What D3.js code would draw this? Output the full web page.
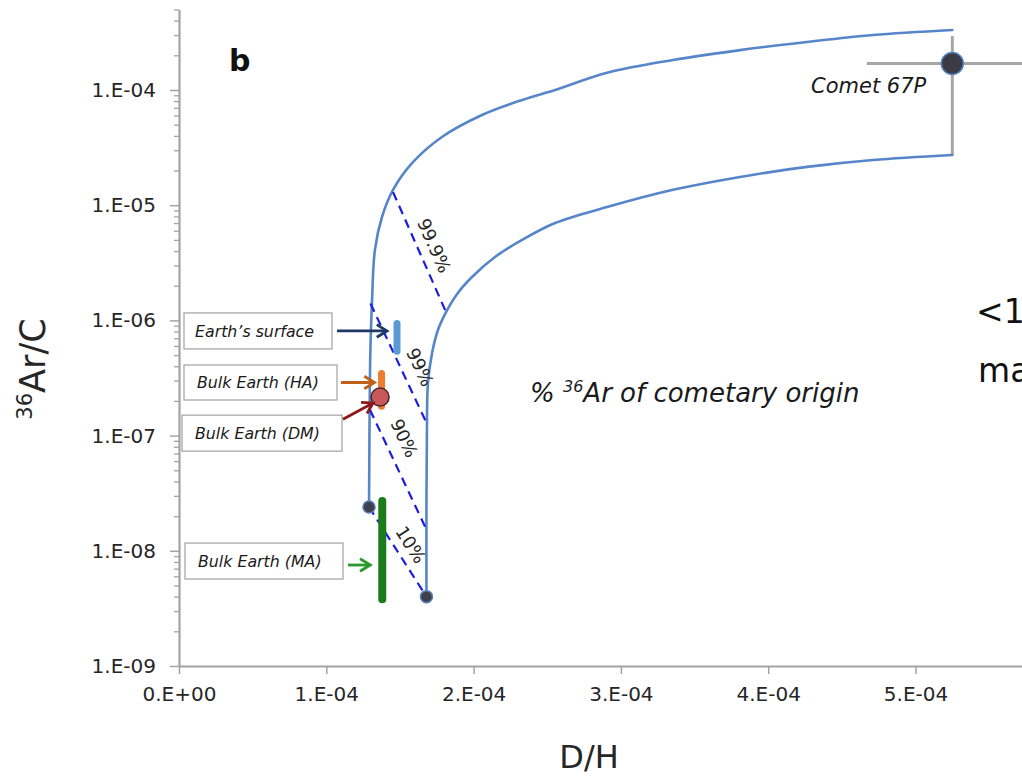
<!DOCTYPE html>
<html>
<head>
<meta charset="utf-8">
<script src="https://cdn.jsdelivr.net/npm/d3@7"></script>
<style>
  html, body { margin: 0; padding: 0; background: #ffffff; }
  svg { display: block; }
  text { font-family: "DejaVu Sans", "Liberation Sans", sans-serif; }
</style>
</head>
<body>
<svg id="chart" width="1022" height="781"></svg>
<script>
// ---- data: D/H vs 36Ar/C mixing between terrestrial end-members and comet 67P ----

// upper mixing curve (high-Ar end-member -> comet upper bound)
const upperDH  = [1.29e-4, 1.293e-4, 1.296e-4, 1.30e-4, 1.31e-4, 1.33e-4, 1.378e-4, 1.453e-4, 1.582e-4,
                  1.785e-4, 2.057e-4, 2.33e-4, 2.553e-4, 2.906e-4, 3.354e-4, 3.809e-4, 4.263e-4, 4.711e-4, 5.25e-4];
const upperArC = [2.4e-8, 1.0e-7, 3.0e-7, 6.0e-7, 1.42e-6, 4.1e-6, 7.9e-6, 1.36e-5, 2.32e-5,
                  3.91e-5, 6.07e-5, 8.2e-5, 1.0e-4, 1.41e-4, 1.82e-4, 2.22e-4, 2.61e-4, 3.0e-4, 3.32e-4];

// lower mixing curve (low-Ar end-member -> comet lower bound)
const lowerDH  = [1.68e-4, 1.68e-4, 1.683e-4, 1.69e-4, 1.718e-4, 1.758e-4, 1.813e-4, 1.887e-4, 1.989e-4,
                  2.145e-4, 2.329e-4, 2.553e-4, 2.906e-4, 3.354e-4, 3.809e-4, 4.263e-4, 4.711e-4, 5.25e-4];
const lowerArC = [4.0e-9, 2.8e-8, 1.05e-7, 2.86e-7, 5.2e-7, 8.26e-7, 1.18e-6, 1.69e-6, 2.38e-6,
                  3.55e-6, 4.99e-6, 7.0e-6, 9.64e-6, 1.36e-5, 1.76e-5, 2.15e-5, 2.47e-5, 2.73e-5];

// end-member points of the two curves
const endDH  = [1.29e-4, 1.68e-4];
const endArC = [2.4e-8, 4.0e-9];

// iso-lines: % 36Ar of cometary origin
const isoLabels = ["99.9%", "99%", "90%", "10%"];
const isoDH0  = [1.453e-4, 1.30e-4, 1.297e-4, 1.29e-4];
const isoArC0 = [1.30e-5, 1.40e-6, 1.67e-7, 2.4e-8];
const isoDH1  = [1.813e-4, 1.684e-4, 1.684e-4, 1.68e-4];
const isoArC1 = [1.18e-6, 1.26e-7, 1.49e-8, 4.0e-9];

// comet 67P with error bars
const cometDH = 5.25e-4, cometDHLow = 4.67e-4, cometDHHigh = 5.83e-4;
const cometArC = 1.7e-4, cometArCLow = 2.73e-5, cometArCHigh = 2.94e-4;

// terrestrial reservoirs (ranges)
const earthNames   = ["Earth\u2019s surface", "Bulk Earth (HA)", "Bulk Earth (MA)"];
const earthDH      = [1.48e-4, 1.375e-4, 1.38e-4];
const earthArCLow  = [5.4e-7, 1.8e-7, 3.8e-9];
const earthArCHigh = [9.4e-7, 3.46e-7, 2.7e-8];
// bulk Earth (DM) single estimate
const dmName = "Bulk Earth (DM)", dmDH = 1.365e-4, dmArC = 2.16e-7;

// callout label anchors (Ar/C level of each box centre)
const calloutNames = ["Earth\u2019s surface", "Bulk Earth (HA)", "Bulk Earth (DM)", "Bulk Earth (MA)"];
const calloutArC   = [8.1e-7, 2.89e-7, 1.05e-7, 8.15e-9];

// axes
const xTickValues = [0, 1e-4, 2e-4, 3e-4, 4e-4, 5e-4];
const xTickLabels = ["0.E+00", "1.E-04", "2.E-04", "3.E-04", "4.E-04", "5.E-04"];
const yTickValues = [1e-9, 1e-8, 1e-7, 1e-6, 1e-5, 1e-4];
const yTickLabels = ["1.E-09", "1.E-08", "1.E-07", "1.E-06", "1.E-05", "1.E-04"];

// ---- layout & styles ----
const svg = d3.select("#chart");
const X0 = 179, PX_PER_UNIT = 147.3e4;        // px per unit D/H
const Y0 = 666, PX_PER_DECADE = 115.2;
const xMax = 6e-4, yMin = 1e-9, yMax = 5e-4;

const x = d3.scaleLinear().domain([0, xMax]).range([X0, X0 + xMax * PX_PER_UNIT]);
const y = d3.scaleLog().domain([yMin, yMax])
  .range([Y0, Y0 - PX_PER_DECADE * Math.log10(yMax / yMin)]);

const axisColor = "#a3a3a3";
const textColor = "#262626";
const curveColor = "#5686c9";
const isoColor = "#1c1ce0";
const FONT = "DejaVu Sans, sans-serif";

// ---- axes ----
const minorY = [];
for (let e = -9; e <= -4; e++) {
  for (let m = 2; m <= 9; m++) {
    const v = m * Math.pow(10, e);
    if (v <= yMax) minorY.push(v);
  }
}

const yMinor = svg.append("g").attr("transform", `translate(${X0},0)`)
  .call(d3.axisLeft(y).tickValues(minorY).tickSize(5).tickFormat(""));
yMinor.select(".domain").remove();
yMinor.selectAll("line").attr("stroke", axisColor).attr("stroke-width", 1.3);

const yAxis = svg.append("g").attr("transform", `translate(${X0},0)`)
  .call(d3.axisLeft(y).tickValues(yTickValues)
    .tickFormat((d, i) => yTickLabels[i]).tickSize(9).tickSizeOuter(0).tickPadding(14));
yAxis.select(".domain").attr("stroke", axisColor).attr("stroke-width", 2.2);
yAxis.selectAll(".tick line").attr("stroke", axisColor).attr("stroke-width", 1.5);
yAxis.selectAll("text").attr("font-size", 20).attr("fill", textColor).attr("font-family", FONT);

const xAxis = svg.append("g").attr("transform", `translate(0,${Y0})`)
  .call(d3.axisBottom(x).tickValues(xTickValues)
    .tickFormat((d, i) => xTickLabels[i]).tickSize(8).tickSizeOuter(0).tickPadding(13));
xAxis.select(".domain").attr("stroke", axisColor).attr("stroke-width", 2.2);
xAxis.selectAll(".tick line").attr("stroke", axisColor).attr("stroke-width", 1.5);
xAxis.selectAll("text").attr("font-size", 20).attr("fill", textColor).attr("font-family", FONT);

// axis titles
const yTitle = svg.append("text")
  .attr("transform", `translate(45,369) rotate(-90)`)
  .attr("text-anchor", "middle").attr("font-size", 35).attr("fill", textColor);
yTitle.append("tspan").attr("font-size", 21).attr("dy", -13).text("36");
yTitle.append("tspan").attr("dy", 13).text("Ar/C");

svg.append("text").attr("x", 589).attr("y", 768)
  .attr("text-anchor", "middle").attr("font-size", 32).attr("fill", textColor).text("D/H");

// panel letter
svg.append("text").attr("x", 229).attr("y", 71)
  .attr("font-size", 30).attr("font-weight", "bold").attr("fill", "#111").text("b");

// ---- comet error bars ----
svg.append("line")
  .attr("x1", x(cometDHLow)).attr("x2", x(cometDHHigh))
  .attr("y1", y(cometArC)).attr("y2", y(cometArC))
  .attr("stroke", "#a6a6a6").attr("stroke-width", 3);
svg.append("line")
  .attr("x1", x(cometDH)).attr("x2", x(cometDH))
  .attr("y1", y(cometArCLow)).attr("y2", y(cometArCHigh))
  .attr("stroke", "#a6a6a6").attr("stroke-width", 3);

// ---- mixing curves ----
const line = d3.line().x(d => x(d[0])).y(d => y(d[1])).curve(d3.curveCatmullRom.alpha(0.5));
const upper = upperDH.map((d, i) => [d, upperArC[i]]);
const lower = lowerDH.map((d, i) => [d, lowerArC[i]]);
[upper, lower].forEach(pts => {
  svg.append("path").attr("d", line(pts))
    .attr("fill", "none").attr("stroke", curveColor).attr("stroke-width", 2.6)
    .attr("stroke-linejoin", "round").attr("stroke-linecap", "round");
});

// ---- iso-lines ----
isoLabels.forEach((lab, i) => {
  svg.append("line")
    .attr("x1", x(isoDH0[i])).attr("y1", y(isoArC0[i]))
    .attr("x2", x(isoDH1[i])).attr("y2", y(isoArC1[i]))
    .attr("stroke", isoColor).attr("stroke-width", 2.2).attr("stroke-dasharray", "9,6");
});

// ---- terrestrial reservoirs ----
const earthColors = ["#5b9bd5", "#ed7d31", "#1a7d1a"];
const earthWidths = [7, 7, 8];
earthNames.forEach((n, i) => {
  svg.append("line")
    .attr("x1", x(earthDH[i])).attr("x2", x(earthDH[i]))
    .attr("y1", y(earthArCLow[i])).attr("y2", y(earthArCHigh[i]))
    .attr("stroke", earthColors[i]).attr("stroke-width", earthWidths[i])
    .attr("stroke-linecap", "round");
});

// end-member dots
endDH.forEach((d, i) => {
  svg.append("circle").attr("cx", x(d)).attr("cy", y(endArC[i])).attr("r", 6)
    .attr("fill", "#3f404c").attr("stroke", "#5a7fb8").attr("stroke-width", 1.5);
});

// iso-line labels, set along each line on its upper-right side
const isoT = [0.50, 0.59, 0.30, 0.51];
const isoOff = [16, 18, 19, 15];
isoLabels.forEach((lab, i) => {
  const x0 = x(isoDH0[i]), y0 = y(isoArC0[i]);
  const x1 = x(isoDH1[i]), y1 = y(isoArC1[i]);
  const ang = Math.atan2(y1 - y0, x1 - x0) * 180 / Math.PI;
  const px = x0 + (x1 - x0) * isoT[i], py = y0 + (y1 - y0) * isoT[i];
  svg.append("text")
    .attr("transform", `translate(${px},${py}) rotate(${ang})`)
    .attr("x", 0).attr("y", -isoOff[i]).attr("dy", "0.36em")
    .attr("text-anchor", "middle").attr("font-size", 18).attr("fill", textColor)
    .text(lab);
});

// bulk Earth (DM)
svg.append("circle").attr("cx", x(dmDH)).attr("cy", y(dmArC)).attr("r", 9)
  .attr("fill", "#c8585a").attr("stroke", "#4a2626").attr("stroke-width", 1.5);

// comet 67P point
svg.append("circle").attr("cx", x(cometDH)).attr("cy", y(cometArC)).attr("r", 11)
  .attr("fill", "#3a3b45").attr("stroke", "#5580c0").attr("stroke-width", 1.5);
svg.append("text").attr("x", 811).attr("y", 93)
  .attr("font-size", 21).attr("font-style", "italic").attr("fill", "#1a1a1a").text("Comet 67P");

// ---- callout boxes and arrows ----
const boxLeft   = [184, 184, 182, 185];
const boxWidth  = [148, 153, 160, 158];
const boxHeight = [36, 35, 36, 36];
const textLeft  = [195, 197, 195, 198];
calloutNames.forEach((n, i) => {
  const cy = y(calloutArC[i]);
  svg.append("rect").attr("x", boxLeft[i]).attr("y", cy - boxHeight[i] / 2)
    .attr("width", boxWidth[i]).attr("height", boxHeight[i])
    .attr("fill", "#ffffff").attr("stroke", "#a8a8a8").attr("stroke-width", 1.3);
  svg.append("text").attr("x", textLeft[i]).attr("y", cy).attr("dy", "0.36em")
    .attr("font-size", 15.8).attr("font-style", "italic").attr("fill", "#1a1a1a").text(n);
});

function arrow(xa, ya, xb, yb, color) {
  const a = Math.atan2(yb - ya, xb - xa), L = 12, W = 0.55;
  svg.append("line").attr("x1", xa).attr("y1", ya).attr("x2", xb).attr("y2", yb)
    .attr("stroke", color).attr("stroke-width", 2.8);
  const p1 = [xb - L * Math.cos(a - W), yb - L * Math.sin(a - W)];
  const p2 = [xb - L * Math.cos(a + W), yb - L * Math.sin(a + W)];
  svg.append("path").attr("d", `M${p1}L${xb},${yb}L${p2}`)
    .attr("fill", "none").attr("stroke", color).attr("stroke-width", 2.8)
    .attr("stroke-linejoin", "miter");
}
const arrowColors = ["#1f3864", "#c0601a", "#8b1a1a", "#2a9a2a"];
// Earth's surface
arrow(boxLeft[0] + boxWidth[0] + 5, y(calloutArC[0]), x(earthDH[0]) - 10, y(calloutArC[0]), arrowColors[0]);
// Bulk Earth (HA)
arrow(boxLeft[1] + boxWidth[1] + 4, y(calloutArC[1]), x(earthDH[1]) - 7, y(calloutArC[1]), arrowColors[1]);
// Bulk Earth (DM)
arrow(boxLeft[2] + boxWidth[2] + 1, y(calloutArC[2]) - 14, x(dmDH) - 7, y(dmArC) + 6, arrowColors[2]);
// Bulk Earth (MA)
arrow(boxLeft[3] + boxWidth[3] + 5, y(calloutArC[3]) + 4, x(earthDH[2]) - 12, y(calloutArC[3]) + 4, arrowColors[3]);

// ---- in-plot annotation ----
const note = svg.append("text").attr("x", 530).attr("y", 402)
  .attr("font-size", 26).attr("font-style", "italic").attr("fill", "#1a1a1a");
note.append("tspan").text("% ");
note.append("tspan").attr("font-size", 16).attr("dy", -10).text("36");
note.append("tspan").attr("dy", 10).text("Ar of cometary origin");

// side note (continues beyond the frame)
svg.append("text").attr("x", 976).attr("y", 323).attr("font-size", 33).attr("fill", "#111").text("<1");
svg.append("text").attr("x", 978).attr("y", 382).attr("font-size", 33).attr("fill", "#111").text("ma");
</script>
</body>
</html>
